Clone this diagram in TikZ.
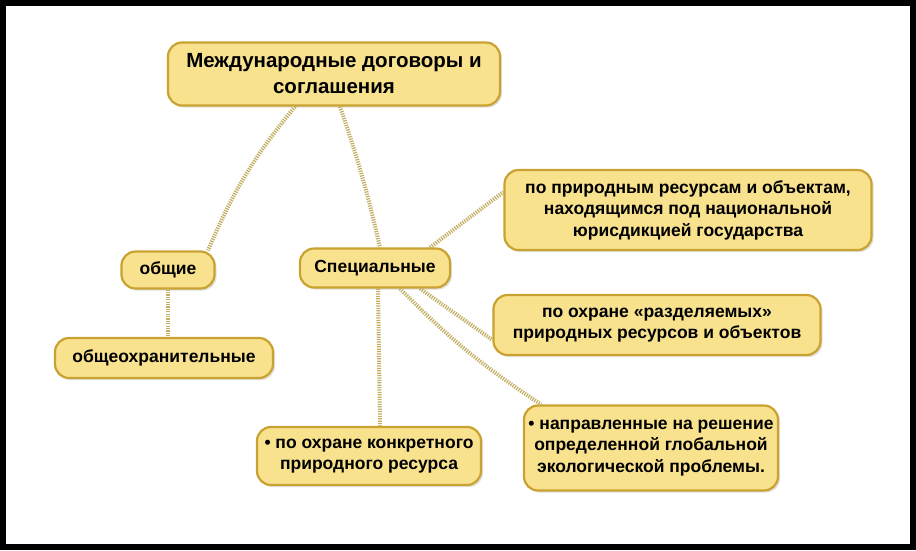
\documentclass[tikz,border=0pt]{standalone}
\usepackage{fontspec}
\setmainfont{Liberation Sans}
\usetikzlibrary{shadows}
\definecolor{boxfill}{HTML}{F8E28E}
\definecolor{boxline}{HTML}{C9A232}
\definecolor{linkc}{HTML}{C2AE62}
\tikzset{
  box/.style={draw=boxline, line width=2.2pt, fill=boxfill, rounded corners=14pt,
    align=center, font=\bfseries\fontsize{17.5}{21.5}\selectfont, inner xsep=4pt, inner ysep=4pt,
    drop shadow={shadow xshift=2pt, shadow yshift=-2pt, opacity=0.25}},
  link/.style={draw=linkc, line width=4pt, dash pattern=on 1.2pt off 1.2pt}
}
\begin{document}
\begin{tikzpicture}[x=1pt,y=-1pt]
\fill[black] (0,0) rectangle (916,550);
\fill[white] (6,6) rectangle (910,544);
\useasboundingbox (0,0) rectangle (916,550);
\node[box, minimum width=332, minimum height=63, font=\bfseries\fontsize{20.5}{26}\selectfont] (main) at (334,74) {Международные договоры и\\соглашения};
\node[box, minimum width=93, minimum height=37] (ob) at (168,270) {общие};
\node[box, minimum width=218, minimum height=40] (oo) at (164,358) {общеохранительные};
\node[box, minimum width=150, minimum height=39] (sp) at (375,268) {Специальные};
\node[box, minimum width=367, minimum height=80] (b1) at (688,210) {по природным ресурсам и объектам,\\находящимся под национальной\\юрисдикцией государства};
\node[box, minimum width=327, minimum height=60] (b2) at (657,325) {по охране «разделяемых»\\природных ресурсов и объектов};
\node[box, minimum width=224, minimum height=58] (b3) at (369,456) {• по охране конкретного\\природного ресурса};
\node[box, minimum width=254, minimum height=85] (b4) at (651,448) {• направленные на решение\\определенной глобальной\\экологической проблемы.};
\draw[link] ([xshift=-39pt]main.south) to[bend right=8] ([xshift=40pt]ob.north);
\draw[link] ([xshift=6pt]main.south) to[bend left=3] ([xshift=5pt]sp.north);
\draw[link] ([xshift=55pt]sp.north) -- ([yshift=18pt]b1.west);
\draw[link] ([xshift=45pt]sp.south) -- ([yshift=-15pt]b2.west);
\draw[link] ([xshift=3pt]sp.south) -- ([xshift=11pt]b3.north);
\draw[link] ([xshift=25pt]sp.south) to[bend right=6] ([xshift=-110pt]b4.north);
\draw[link] (ob.south) -- (ob.south |- oo.north);
\end{tikzpicture}
\end{document}
